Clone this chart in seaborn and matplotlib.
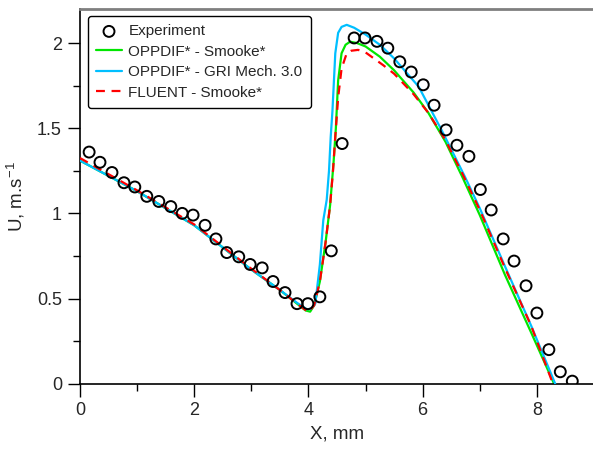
import numpy as np
import pandas as pd
import matplotlib
matplotlib.use("Agg")
import matplotlib.pyplot as plt
import seaborn as sns

# Experimental data
exp_x = [0.16, 0.35, 0.56, 0.77, 0.96, 1.17, 1.38, 1.59, 1.79, 1.98, 2.19, 2.38,
         2.57, 2.78, 2.98, 3.19, 3.38, 3.59, 3.80, 3.99, 4.20, 4.40, 4.59, 4.80,
         4.99, 5.20, 5.39, 5.60, 5.80, 6.01, 6.20, 6.41, 6.60, 6.81, 7.01, 7.20,
         7.41, 7.60, 7.81, 8.00, 8.21, 8.41, 8.62]
exp_y = [1.36, 1.30, 1.24, 1.18, 1.155, 1.10, 1.07, 1.04, 1.00, 0.99, 0.93, 0.85,
         0.77, 0.745, 0.70, 0.68, 0.60, 0.535, 0.47, 0.47, 0.51, 0.78, 1.41, 2.03,
         2.03, 2.01, 1.97, 1.89, 1.83, 1.755, 1.635, 1.49, 1.40, 1.335, 1.14, 1.02,
         0.85, 0.72, 0.575, 0.415, 0.20, 0.07, 0.015]

# OPPDIF* - Smooke*
smk_x = [0.0, 0.5, 1.0, 1.5, 2.0, 2.5, 3.0, 3.5, 3.8, 3.95, 4.03, 4.1, 4.2, 4.3,
         4.38, 4.44, 4.48, 4.52, 4.58, 4.65, 4.73, 4.85, 5.0, 5.25, 5.5, 5.84,
         6.1, 6.4, 6.7, 7.0, 7.44, 7.9, 8.3]
smk_y = [1.31, 1.22, 1.13, 1.03, 0.93, 0.80, 0.67, 0.55, 0.47, 0.43, 0.423, 0.46,
         0.60, 0.83, 1.05, 1.30, 1.50, 1.78, 1.94, 1.99, 2.008, 2.0, 1.98, 1.92,
         1.84, 1.71, 1.59, 1.42, 1.21, 0.99, 0.64, 0.30, 0.0]

# OPPDIF* - GRI Mech. 3.0
gri_x = [0.0, 0.5, 1.0, 1.5, 2.0, 2.5, 3.0, 3.5, 3.8, 3.97, 4.05, 4.12, 4.2,
         4.26, 4.32, 4.36, 4.39, 4.42, 4.47, 4.52, 4.58, 4.67, 4.8, 5.0, 5.25,
         5.5, 5.93, 6.33, 6.74, 7.0, 7.44, 7.9, 8.32]
gri_y = [1.31, 1.22, 1.13, 1.03, 0.93, 0.80, 0.67, 0.55, 0.475, 0.437, 0.44,
         0.47, 0.70, 0.96, 1.08, 1.25, 1.45, 1.60, 1.94, 2.06, 2.095, 2.107,
         2.09, 2.05, 1.99, 1.91, 1.744, 1.49, 1.215, 1.03, 0.69, 0.34, 0.0]

# FLUENT - Smooke*
flu_x = [0.0, 0.5, 1.0, 1.5, 2.0, 2.5, 3.0, 3.5, 3.8, 4.0, 4.1, 4.2, 4.3, 4.38,
         4.43, 4.47, 4.52, 4.58, 4.67, 4.75, 4.87, 5.0, 5.31, 5.5, 5.84, 6.1,
         6.4, 6.7, 7.0, 7.44, 7.9, 8.28]
flu_y = [1.325, 1.23, 1.135, 1.035, 0.935, 0.805, 0.675, 0.55, 0.47, 0.42, 0.46,
         0.60, 0.83, 1.05, 1.25, 1.45, 1.68, 1.85, 1.94, 1.955, 1.96, 1.945,
         1.87, 1.82, 1.70, 1.59, 1.43, 1.23, 1.02, 0.68, 0.34, 0.0]

sns.set_style("white")
plt.rcParams['font.family'] = ['Liberation Sans', 'DejaVu Sans']
plt.rcParams['mathtext.fontset'] = 'custom'
plt.rcParams['mathtext.rm'] = 'Liberation Sans'
plt.rcParams['mathtext.it'] = 'Liberation Sans:italic'
plt.rcParams['axes.unicode_minus'] = False

fig = plt.figure(figsize=(5.93, 4.49), dpi=100)
ax = fig.add_axes([80 / 593, 1 - 383.7 / 449, 514 / 593, 374.7 / 449])

df_smk = pd.DataFrame({"x": smk_x, "y": smk_y})
df_gri = pd.DataFrame({"x": gri_x, "y": gri_y})
df_flu = pd.DataFrame({"x": flu_x, "y": flu_y})
df_exp = pd.DataFrame({"x": exp_x, "y": exp_y})

sns.lineplot(data=df_smk, x="x", y="y", ax=ax, color="#00e600", lw=1.6,
             sort=False, estimator=None, label="OPPDIF* - Smooke*", zorder=2)
sns.lineplot(data=df_gri, x="x", y="y", ax=ax, color="#00bfff", lw=1.6,
             sort=False, estimator=None, label="OPPDIF* - GRI Mech. 3.0", zorder=3)
sns.lineplot(data=df_flu, x="x", y="y", ax=ax, color="#ff0000", lw=1.6,
             sort=False, estimator=None, label="FLUENT - Smooke*", zorder=4)
ax.lines[2].set_dashes([4, 3])
sns.scatterplot(data=df_exp, x="x", y="y", ax=ax, marker="o", s=62,
                facecolor="none", edgecolor="black", linewidth=1.4,
                label="Experiment", zorder=5)

ax.set_xlim(0, 9)
ax.set_ylim(0, 2.2)
ax.set_xticks([0, 2, 4, 6, 8])
ax.set_xticks([1, 3, 5, 7], minor=True)
ax.set_yticks([0, 0.5, 1, 1.5, 2])
ax.set_yticklabels(["0", "0.5", "1", "1.5", "2"])
ax.set_yticks([0.25, 0.75, 1.25, 1.75], minor=True)
ax.tick_params(which="major", direction="out", length=9, width=1, color="black",
               labelsize=13, bottom=True, left=True, pad=4)
ax.tick_params(which="minor", direction="out", length=5, width=1, color="black",
               bottom=True, left=True)

for s in ["left", "bottom"]:
    ax.spines[s].set_color("black")
    ax.spines[s].set_linewidth(1.2)
ax.spines["right"].set_visible(False)
ax.spines["top"].set_color("#7f7f7f")
ax.spines["top"].set_linewidth(2)

ax.set_xlabel("X, mm", fontsize=13.5, labelpad=5)
ax.set_ylabel("U, m.s$^{-1}$", fontsize=13.5, labelpad=7)

handles, labels = ax.get_legend_handles_labels()
order = [labels.index(l) for l in ["Experiment", "OPPDIF* - Smooke*",
                                   "OPPDIF* - GRI Mech. 3.0", "FLUENT - Smooke*"]]
leg = ax.legend([handles[i] for i in order], [labels[i] for i in order],
                loc="upper left", bbox_to_anchor=(8 / 514, (383.7 - 16) / 374.7),
                borderaxespad=0, fontsize=11, frameon=True, fancybox=True,
                edgecolor="black", framealpha=1, handlelength=1.65,
                handletextpad=0.45, labelspacing=0.42, borderpad=0.55)
leg.get_frame().set_linewidth(1.0)

fig.savefig("out.png", dpi=100)
